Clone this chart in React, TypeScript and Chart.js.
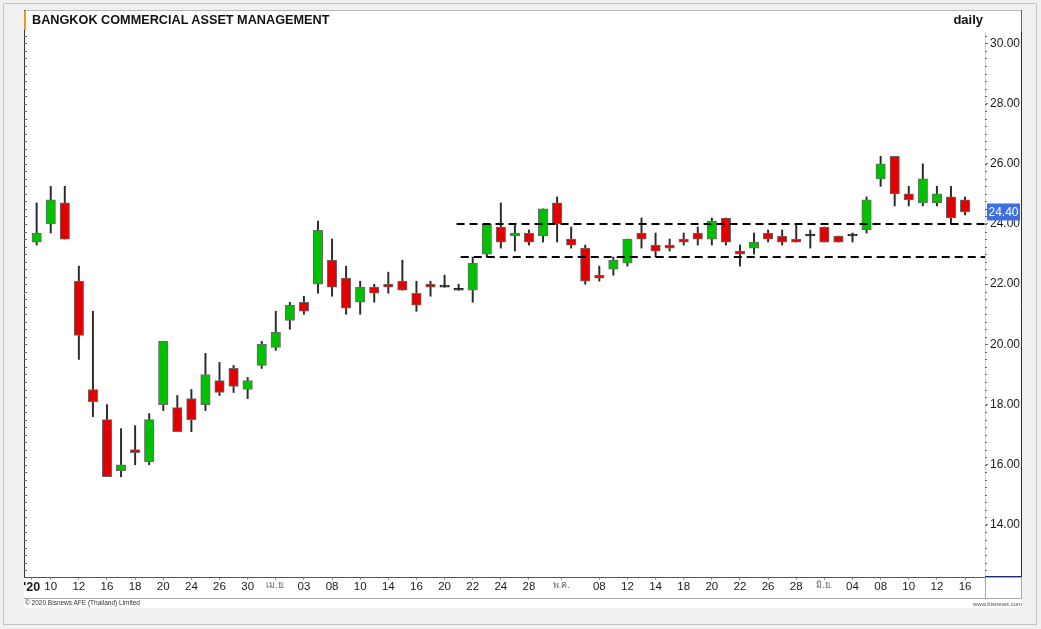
import React, { useEffect, useRef } from "react";
import { Chart, registerables } from "chart.js";

Chart.register(...registerables);

// ---- data ----
const opens = [
  23.4, 24.0, 24.7, 22.1, 18.5, 17.5, 15.8, 16.5, 16.1, 18.0,
  17.9, 18.2, 18.0, 18.8, 19.2, 18.5, 19.3, 19.9, 20.8, 21.4,
  22.0, 22.8, 22.2, 21.4, 21.9, 22.0, 22.1, 21.7, 22.0, 21.9,
  21.8, 21.8, 23.0, 23.9, 23.6, 23.7, 23.6, 24.7, 23.5, 23.2,
  22.3, 22.5, 22.7, 23.7, 23.3, 23.3, 23.5, 23.7, 23.5, 24.2,
  23.1, 23.2, 23.7, 23.6, 23.5, 23.6, 23.9, 23.6, 23.6, 23.8,
  25.5, 26.25, 25.0, 24.7, 24.7, 24.9, 24.8,
];
const highs = [
  24.7, 25.25, 25.25, 22.6, 21.1, 18.0, 17.2, 17.3, 17.7, 20.1,
  18.3, 18.5, 19.7, 19.4, 19.3, 18.9, 20.1, 21.1, 21.4, 21.6,
  24.1, 23.5, 22.6, 22.1, 22.0, 22.4, 22.8, 22.1, 22.1, 22.3,
  22.0, 22.9, 24.0, 24.7, 24.0, 23.8, 24.5, 24.9, 23.9, 23.3,
  22.6, 22.9, 23.5, 24.2, 23.7, 23.5, 23.7, 23.9, 24.2, 24.2,
  23.3, 23.7, 23.8, 23.8, 24.0, 23.8, 23.9, 23.6, 23.7, 24.9,
  26.25, 26.25, 25.25, 26.0, 25.25, 25.25, 24.9,
];
const lows = [
  23.3, 23.7, 23.5, 19.5, 17.6, 15.6, 15.6, 16.0, 16.0, 17.8,
  17.1, 17.1, 17.8, 18.3, 18.4, 18.2, 19.2, 19.8, 20.5, 21.0,
  21.7, 21.6, 21.0, 21.0, 21.4, 21.7, 21.8, 21.1, 21.6, 21.9,
  21.8, 21.4, 22.9, 23.2, 23.1, 23.3, 23.4, 23.4, 23.2, 22.0,
  22.1, 22.3, 22.6, 23.2, 22.9, 23.1, 23.3, 23.3, 23.3, 23.3,
  22.6, 23.0, 23.4, 23.3, 23.4, 23.2, 23.4, 23.4, 23.4, 23.7,
  25.25, 24.6, 24.6, 24.6, 24.6, 24.0, 24.3,
];
const closes = [
  23.7, 24.8, 23.5, 20.3, 18.1, 15.6, 16.0, 16.4, 17.5, 20.1,
  17.1, 17.5, 19.0, 18.4, 18.6, 18.8, 20.0, 20.4, 21.3, 21.1,
  23.8, 21.9, 21.2, 21.9, 21.7, 21.9, 21.8, 21.3, 21.9, 21.9,
  21.8, 22.7, 24.0, 23.4, 23.7, 23.4, 24.5, 24.0, 23.3, 22.1,
  22.2, 22.8, 23.5, 23.5, 23.1, 23.2, 23.4, 23.5, 24.1, 23.4,
  23.0, 23.4, 23.5, 23.4, 23.4, 23.6, 23.4, 23.4, 23.6, 24.8,
  26.0, 25.0, 24.8, 25.5, 25.0, 24.2, 24.4,
];
const tickPositions = [
  -0.35, 1, 3, 5, 7, 9, 11, 13, 15, 17, 19, 21, 23, 25, 27, 29, 31, 33, 35,
  37.3, 40, 42, 44, 46, 48, 50, 52, 54, 56, 58, 60, 62, 64, 66,
];
const tickLabels = [
  "'20", "10", "12", "16", "18", "20", "24", "26", "30", "เม.ย.", "03", "08", "10", "14", "16", "20", "22", "24", "28",
  "พ.ค.", "08", "12", "14", "18", "20", "22", "26", "28", "มิ.ย.", "04", "08", "10", "12", "16",
];
const yTickValues = [14, 16, 18, 20, 22, 24, 26, 28, 30];
const levelValues = [24.0, 22.9];
const levelStarts = [29.85, 30.15];
const lastPrice = 24.4;

const X_MIN = -0.9;
const X_MAX = 67.42;
const Y_MIN = 12.27;
const Y_MAX = 30.38;

const GREEN = "#00c000";
const RED = "#e00000";
const FONT = "'Liberation Sans', Arial, 'DejaVu Sans', 'Noto Sans', sans-serif";

export default function App() {
  const ref = useRef<HTMLCanvasElement>(null);

  useEffect(() => {
    const idx = opens.map((_, i) => i);
    const bodyColors = idx.map((i) =>
      closes[i] > opens[i] ? GREEN : closes[i] < opens[i] ? RED : "#222"
    );
    const bodyBorders = idx.map((i) => (closes[i] === opens[i] ? "#222" : "#6a6a6a"));

    const decorations = {
      id: "decorations",
      afterDraw(chart: any) {
        const ctx = chart.ctx;
        const ys = chart.scales.y;
        const ca = chart.chartArea;
        ctx.save();
        ctx.strokeStyle = "#b8b8b8";
        ctx.lineWidth = 1;
        ctx.beginPath();
        ctx.moveTo(24, 10.5);
        ctx.lineTo(1022, 10.5);
        ctx.stroke();
        ctx.strokeStyle = "#333";
        ctx.beginPath();
        ctx.moveTo(24.5, 10);
        ctx.lineTo(24.5, ca.bottom);
        ctx.stroke();
        ctx.strokeStyle = "#666";
        for (let v = Math.ceil(Y_MIN * 4) / 4; v <= Y_MAX; v += 0.25) {
          const p = Math.round(ys.getPixelForValue(v)) + 0.5;
          ctx.beginPath();
          ctx.moveTo(24, p);
          ctx.lineTo(27, p);
          ctx.stroke();
          ctx.beginPath();
          ctx.moveTo(ca.right, p);
          ctx.lineTo(ca.right + 2, p);
          ctx.stroke();
        }
        ctx.strokeStyle = "#666";
        ctx.beginPath();
        ctx.moveTo(1021.5, 10);
        ctx.lineTo(1021.5, ca.top);
        ctx.stroke();
        ctx.strokeStyle = "#1c2a7a";
        ctx.beginPath();
        ctx.moveTo(1021.5, ca.top);
        ctx.lineTo(1021.5, ca.bottom);
        ctx.moveTo(ca.right, ca.bottom - 0.5);
        ctx.lineTo(1022, ca.bottom - 0.5);
        ctx.stroke();
        ctx.strokeStyle = "#a8a8a8";
        ctx.beginPath();
        ctx.moveTo(24, 598.5);
        ctx.lineTo(1022, 598.5);
        ctx.moveTo(ca.right + 0.5, ca.bottom);
        ctx.lineTo(ca.right + 0.5, 598);
        ctx.moveTo(1021.5, ca.bottom);
        ctx.lineTo(1021.5, 598);
        ctx.moveTo(ca.right, ca.bottom + 0.5);
        ctx.lineTo(1022, ca.bottom + 0.5);
        ctx.stroke();
        const py = ys.getPixelForValue(lastPrice);
        ctx.fillStyle = "#3d6fe0";
        ctx.fillRect(ca.right + 2, py - 8.5, 33, 17);
        ctx.fillStyle = "#fff";
        ctx.font = `12px ${FONT}`;
        ctx.textAlign = "center";
        ctx.textBaseline = "middle";
        ctx.fillText(lastPrice.toFixed(2), ca.right + 18.5, py + 0.5);
        ctx.restore();
      },
    };

    const chart = new Chart(ref.current as HTMLCanvasElement, {
      type: "bar",
      data: {
        datasets: [
          ...levelValues.map((v, k) => ({
            type: "line" as const,
            label: "level" + k,
            data: [
              { x: levelStarts[k], y: v },
              { x: X_MAX, y: v },
            ],
            borderColor: "#000",
            borderWidth: 2,
            borderDash: [8, 5],
            pointRadius: 0,
            order: -1,
          })),
          {
            type: "bar" as const,
            label: "body",
            data: idx.map((i) => ({ x: i, y: [opens[i], closes[i]] })),
            backgroundColor: bodyColors,
            borderColor: bodyBorders,
            borderWidth: 1,
            borderSkipped: false,
            barThickness: 9.5,
            minBarLength: 2,
            grouped: false,
            order: 0,
          },
          {
            type: "bar" as const,
            label: "wick",
            data: idx.map((i) => ({ x: i, y: [lows[i], highs[i]] })),
            backgroundColor: "#2a2a2a",
            borderWidth: 0,
            barThickness: 1.3,
            grouped: false,
            order: 1,
          },
        ] as any,
      },
      options: {
        responsive: false,
        devicePixelRatio: 1,
        animation: false,
        layout: { padding: { left: 24, top: 32, right: 19, bottom: 31 } },
        plugins: { legend: { display: false }, tooltip: { enabled: false } },
        scales: {
          x: {
            type: "linear",
            min: X_MIN,
            max: X_MAX,
            offset: false,
            afterBuildTicks: (s: any) => {
              s.ticks = tickPositions.map((v) => ({ value: v }));
            },
            afterFit: (s: any) => {
              s.height = 21;
            },
            ticks: {
              autoSkip: false,
              maxRotation: 0,
              minRotation: 0,
              padding: 0,
              callback: (_v: any, i: number) => tickLabels[i],
              font: (c: any) => {
                const l = tickLabels[c.index] || "";
                if (c.index === 0) return { family: FONT, size: 12.5, weight: "bold" };
                if (/[\u0E00-\u0E7F]/.test(l)) return { family: FONT, size: 9 };
                return { family: FONT, size: 11.5 };
              },
              color: (c: any) => {
                const l = tickLabels[c.index] || "";
                return /[\u0E00-\u0E7F]/.test(l) ? "#666" : "#1a1a1a";
              },
            },
            grid: { drawOnChartArea: false, tickLength: 3, color: "#999", offset: false },
            border: { color: "#555", width: 1 },
          } as any,
          y: {
            type: "linear",
            position: "right",
            min: Y_MIN,
            max: Y_MAX,
            afterBuildTicks: (s: any) => {
              s.ticks = yTickValues.map((v) => ({ value: v }));
            },
            afterFit: (s: any) => {
              s.width = 37;
            },
            ticks: {
              callback: (v: any) => Number(v).toFixed(2),
              color: "#1a1a1a",
              font: { family: FONT, size: 12 },
              padding: 2,
            },
            grid: { drawOnChartArea: false, tickLength: 3, color: "#777" },
            border: { color: "#e6d48e", width: 1, dash: [2, 2] },
          } as any,
        },
      },
      plugins: [decorations],
    });
    return () => chart.destroy();
  }, []);

  return (
    <div
      style={{
        position: "absolute",
        left: 0,
        top: 0,
        width: 1041,
        height: 629,
        background: "#f0f0f0",
        overflow: "hidden",
        fontFamily: FONT,
      }}
    >
      <div
        style={{
          position: "absolute",
          left: 3,
          top: 3,
          width: 1032,
          height: 620,
          border: "1px solid #c4c4c4",
        }}
      />
      <div
        style={{ position: "absolute", left: 24, top: 10, width: 998, height: 598, background: "#fff" }}
      />
      <canvas
        ref={ref}
        width={1041}
        height={629}
        style={{ position: "absolute", left: 0, top: 0, width: 1041, height: 629 }}
      />
      <div style={{ position: "absolute", left: 24, top: 11, width: 2, height: 19, background: "#f0961e" }} />
      <div
        style={{
          position: "absolute",
          left: 32,
          top: 12,
          fontSize: 12.7,
          fontWeight: "bold",
          color: "#111",
          whiteSpace: "nowrap",
          lineHeight: "16px",
        }}
      >
        BANGKOK COMMERCIAL ASSET MANAGEMENT
      </div>
      <div
        style={{
          position: "absolute",
          right: 1041 - 983,
          top: 12,
          fontSize: 13,
          fontWeight: "bold",
          color: "#111",
          lineHeight: "16px",
        }}
      >
        daily
      </div>
      <div
        style={{
          position: "absolute",
          left: 25,
          top: 599,
          fontSize: 6.5,
          color: "#333",
          whiteSpace: "nowrap",
          lineHeight: "8px",
        }}
      >
        © 2020 Bisnews AFE (Thailand) Limited
      </div>
      <div
        style={{
          position: "absolute",
          right: 1041 - 1022,
          top: 600,
          fontSize: 6,
          color: "#555",
          whiteSpace: "nowrap",
          lineHeight: "8px",
        }}
      >
        www.bisnews.com
      </div>
    </div>
  );
}
